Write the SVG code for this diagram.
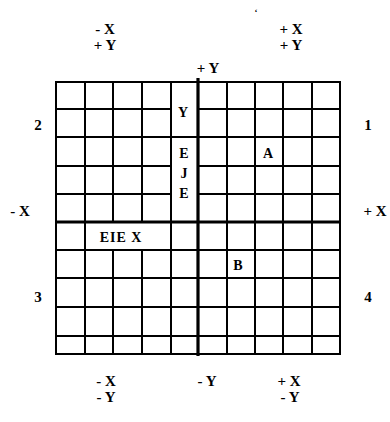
<svg xmlns="http://www.w3.org/2000/svg" width="390" height="422" viewBox="0 0 390 422">
<style>
.g{stroke:#000;stroke-width:2;fill:none;stroke-linecap:square}
.ax{stroke:#000;stroke-width:3.2;fill:none}
.t{font-family:"Liberation Serif","DejaVu Serif",serif;font-weight:bold;font-size:15px;fill:#000;text-anchor:middle}
.c{font-family:"Liberation Serif","DejaVu Serif",serif;font-weight:bold;font-size:14px;fill:#000;text-anchor:middle}
</style>
<rect width="390" height="422" fill="#fff"/>
<g id="grid">
<rect class="g" x="56" y="82" width="284" height="272"/>
<path class="g" d="M85 82V354M113 82V222M113 250V354M142 82V222M142 250V354M171 82V354M227 82V354M255 82V354M283 82V354M312 82V354"/>
<path class="g" d="M56 109H171M198 109H340M56 137H340M56 166H171M198 166H340M56 194H171M198 194H340M56 250H340M56 278H340M56 307H340M56 336H340"/>
</g>
<g id="axes">
<path class="ax" d="M198 78V356M56 222H340"/>
</g>
<g id="cells">
<text class="c" x="183" y="117">Y</text>
<text class="c" x="184" y="158">E</text>
<text class="c" x="184" y="178">J</text>
<text class="c" x="184" y="198">E</text>
<text class="c" x="268" y="158">A</text>
<text class="c" x="238" y="270">B</text>
<text class="c" x="121" y="242" style="letter-spacing:1px">EIE X</text>
</g>
<g id="labels">
<text class="t" x="256" y="15" style="font-size:9px">ʻ</text>
<text class="t" x="105" y="34">- X</text>
<text class="t" x="105" y="50">+ Y</text>
<text class="t" x="291" y="34">+ X</text>
<text class="t" x="291" y="50">+ Y</text>
<text class="t" x="208" y="73">+ Y</text>
<text class="t" x="38" y="130">2</text>
<text class="t" x="368" y="130">1</text>
<text class="t" x="20" y="216">- X</text>
<text class="t" x="375" y="216">+ X</text>
<text class="t" x="38" y="302">3</text>
<text class="t" x="368" y="302">4</text>
<text class="t" x="106" y="386">- X</text>
<text class="t" x="106" y="402">- Y</text>
<text class="t" x="207" y="386">- Y</text>
<text class="t" x="289" y="386">+ X</text>
<text class="t" x="290" y="402">- Y</text>
</g>
</svg>
